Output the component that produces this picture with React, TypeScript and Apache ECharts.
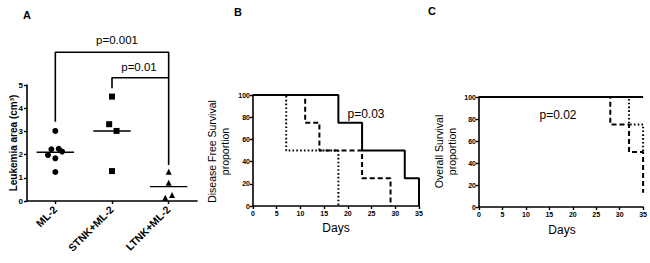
import React, { useEffect, useRef } from "react";
import * as echarts from "echarts";

// Panel A data
const categoriesA = ["ML-2", "STNK+ML-2", "LTNK+ML-2"];
const ml2Points = [[0, 3.02], [-0.07, 2.23], [0.06, 2.25], [0.12, 2.13], [-0.13, 1.98], [0, 1.84], [0, 1.25]];
const stnkPoints = [[1, 4.5], [0.95, 3.31], [1.08, 3.02], [1, 1.29]];
const ltnkPoints = [[2, 1.26], [2, 0.79], [1.94, 0.14], [2.06, 0.26]];
const mediansA = [2.1, 3.02, 0.62];
const bracketBig = [[0, 3.42], [0, 6.41], [2, 6.41], [2, 1.55]];
const bracketSmall = [[1, 4.86], [1, 5.31], [2, 5.31]];
const yTicksA = [0, 1, 2, 3, 4, 5];

// Panel B data (Kaplan-Meier steps)
const dfsSolid = [[0, 100], [18, 75], [23, 50], [32, 25], [35, 0]];
const dfsDashed = [[0, 100], [11, 75], [14, 50], [23, 25], [29, 0]];
const dfsDotted = [[0, 100], [7, 50], [18, 0]];

// Panel C data
const osSolid = [[0, 100], [35, 100]];
const osDashed = [[0, 100], [28, 75], [32, 50], [35, 13]];
const osDotted = [[0, 100], [32, 75], [35, 50]];

const FONT = "Liberation Sans";

export default function App() {
  const ref = useRef<HTMLDivElement>(null);
  useEffect(() => {
    document.body.style.margin = "0";
    const chart = echarts.init(ref.current!, null, { renderer: "svg" });
    const axisLine = { show: true, onZero: false, lineStyle: { color: "#000", width: 1.6 } };
    const axisTick = { show: true, inside: false, length: 3, lineStyle: { color: "#000", width: 1.4 } };
    const tickLabel = (size: number) => ({ color: "#000", fontFamily: FONT, fontWeight: "bold" as const, fontSize: size });

    const kmX = (gi: number) => ({
      type: "value", gridIndex: gi, min: 0, max: 35, interval: 5,
      axisLine, axisTick, splitLine: { show: false },
      axisLabel: { ...tickLabel(7), margin: 4 },
    });
    const kmY = (gi: number) => ({
      type: "value", gridIndex: gi, min: 0, max: 100, interval: 20,
      axisLine, axisTick, splitLine: { show: false },
      axisLabel: { ...tickLabel(7), margin: 3 },
    });

    const km = (data: number[][], xi: number, type: string) => ({
      type: "line", xAxisIndex: xi, yAxisIndex: xi, data, step: "end",
      symbol: "none", clip: false,
      lineStyle: {
        color: "#000", width: 2,
        type: type === "solid" ? "solid" : type === "dashed" ? [5, 3] : [1.6, 2.2],
      },
    });

    const scatter = (data: number[][], symbol: string, size: number) => ({
      type: "scatter", xAxisIndex: 0, yAxisIndex: 0, data, symbol, symbolSize: size,
      itemStyle: { color: "#000", opacity: 1 },
    });

    const medianSeries = mediansA.map((m, i) => ({
      type: "line", xAxisIndex: 0, yAxisIndex: 0, symbol: "none",
      data: [[i - 0.33, m], [i + 0.33, m]],
      lineStyle: { color: "#000", width: 1.4 },
    }));

    const bracket = (data: number[][]) => ({
      type: "line", xAxisIndex: 0, yAxisIndex: 0, symbol: "none", clip: false,
      data, lineStyle: { color: "#000", width: 1.6 },
    });

    const txt = (x: number, y: number, text: string, size: number, bold = false, rot = 0, lh = 0) => ({
      type: "text", x, y, rotation: rot,
      style: {
        text, fill: "#000", fontFamily: FONT, fontSize: size, fontWeight: bold ? "bold" : "normal",
        align: "center", verticalAlign: "middle", lineHeight: lh || undefined,
      },
    });

    chart.setOption({
      animation: false,
      grid: [
        { left: 27, top: 85, width: 170, height: 116 },
        { left: 253, top: 95, width: 166, height: 111 },
        { left: 479, top: 97, width: 166, height: 110 },
      ],
      xAxis: [
        {
          type: "value", gridIndex: 0, min: -0.5, max: 2.5,
          axisLine, splitLine: { show: false },
          axisTick: { ...axisTick, customValues: [0, 1, 2] },
          axisLabel: {
            ...tickLabel(10.5), rotate: 45, margin: 7, customValues: [0, 1, 2],
            formatter: (v: number) => categoriesA[Math.round(v)] ?? "",
          },
        },
        kmX(1),
        kmX(2),
      ],
      yAxis: [
        {
          type: "value", gridIndex: 0, min: yTicksA[0], max: yTicksA[yTicksA.length - 1], interval: 1,
          axisLine, axisTick, splitLine: { show: false },
          axisLabel: { ...tickLabel(8), margin: 4 },
        },
        kmY(1),
        kmY(2),
      ],
      series: [
        scatter(ml2Points, "circle", 6),
        scatter(stnkPoints, "rect", 6),
        scatter(ltnkPoints, "triangle", 6),
        ...medianSeries,
        bracket(bracketBig),
        bracket(bracketSmall),
        km(dfsSolid, 1, "solid"),
        km(dfsDashed, 1, "dashed"),
        km(dfsDotted, 1, "dotted"),
        km(osSolid, 2, "solid"),
        km(osDashed, 2, "dashed"),
        km(osDotted, 2, "dotted"),
      ],
      graphic: [
        txt(27, 15, "A", 11, true),
        txt(238, 12, "B", 11, true),
        txt(432, 11, "C", 11, true),
        txt(117, 40, "p=0.001", 11.5),
        txt(139, 67, "p=0.01", 11.5),
        txt(366, 114, "p=0.03", 12),
        txt(558, 115, "p=0.02", 12),
        txt(13, 143, "Leukemia area (cm³)", 10, true, Math.PI / 2),
        txt(218.5, 151.5, "Disease Free Survival\nproportion", 10.5, false, Math.PI / 2, 13),
        txt(445, 151.5, "Overall Survival\nproportion", 10.5, false, Math.PI / 2, 13),
        txt(336, 228, "Days", 12),
        txt(562, 230, "Days", 12),
      ],
    });
    return () => chart.dispose();
  }, []);
  return <div ref={ref} style={{ position: "absolute", left: 0, top: 0, width: 650, height: 263 }} />;
}
